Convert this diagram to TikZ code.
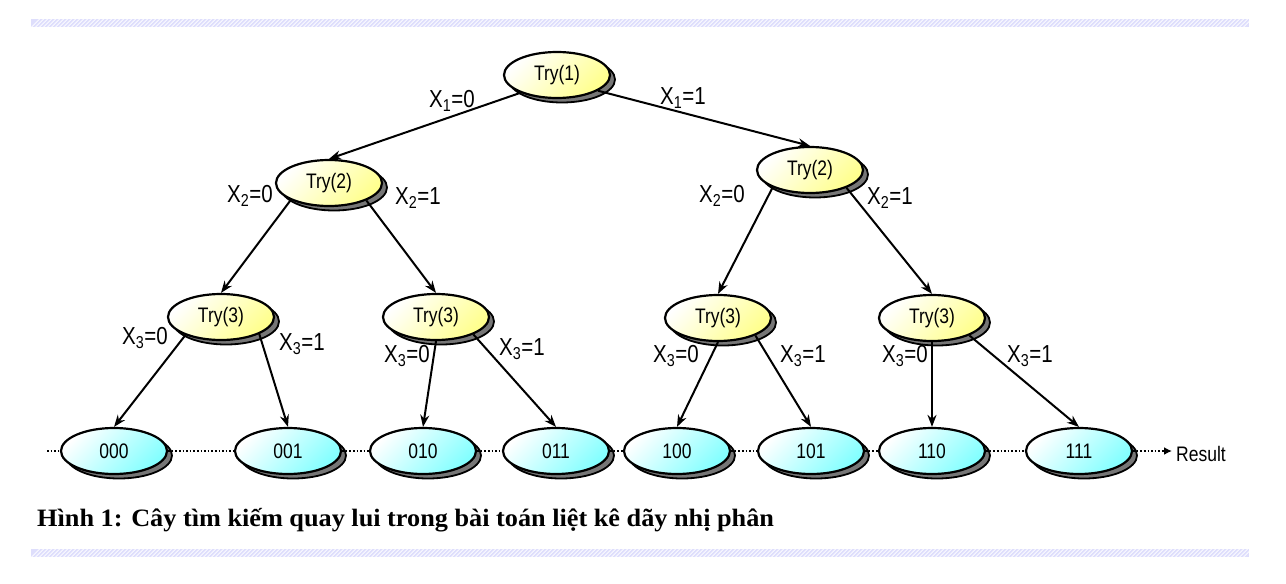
\documentclass[tikz,border=0pt]{standalone}
\usepackage{fontspec}
\setmainfont{Liberation Sans}
\newfontfamily\capfont{Liberation Serif}
\usetikzlibrary{shadows,patterns,arrows.meta,shapes.geometric}
\definecolor{stripe}{RGB}{222,222,252}
\definecolor{shadowgray}{RGB}{118,118,118}
\definecolor{tryyellow}{RGB}{255,255,140}
\definecolor{leafcyan}{RGB}{130,255,255}
\newcommand{\vs}[1]{\scalebox{1}[1.2]{#1}}
\tikzset{
  base/.style={ellipse, draw=black, line width=2.2pt, minimum width=106pt, minimum height=46pt, inner sep=0pt,
    copy shadow={shadow xshift=5pt, shadow yshift=-4.5pt, fill=shadowgray, draw=black, line width=1.8pt},
    font=\fontsize{17.5}{20}\selectfont},
  trynode/.style={base, left color=white, right color=tryyellow, shading angle=45},
  leafnode/.style={base, left color=white, right color=leafcyan, shading angle=45},
  edge/.style={line width=2pt, -{Stealth[length=12pt,width=9pt]}},
  lbl/.style={font=\fontsize{20.5}{24}\selectfont, inner sep=0pt},
  dots/.style={line width=1.6pt, dash pattern=on 1.6pt off 2pt},
}
\newcommand{\xl}[2]{\vs{X\textsubscript{#1}=#2}}
\begin{document}
\begin{tikzpicture}[x=1pt,y=-1pt]
\useasboundingbox (0,0) rectangle (1286,584);
% stripes
\fill[stripe] (31,19) rectangle (1249,27);
\fill[stripe] (31,549) rectangle (1249,557);
\foreach \i in {0,...,303}{
  \fill[white] ({31+4*\i},27) -- ({31+4*\i+1.2},27) -- ({31+4*\i+9.2},19) -- ({31+4*\i+8},19) -- cycle;
  \fill[white] ({31+4*\i},557) -- ({31+4*\i+1.2},557) -- ({31+4*\i+9.2},549) -- ({31+4*\i+8},549) -- cycle;
}
% nodes
\node[trynode] (t1) at (557,75) {\vs{Try(1)}};
\node[trynode] (t2a) at (329,183) {\vs{Try(2)}};
\node[trynode] (t2b) at (810,170) {\vs{Try(2)}};
\node[trynode] (t3a) at (221,317) {\vs{Try(3)}};
\node[trynode] (t3b) at (436,317) {\vs{Try(3)}};
\node[trynode] (t3c) at (718,318) {\vs{Try(3)}};
\node[trynode] (t3d) at (932,318) {\vs{Try(3)}};
\node[leafnode] (l0) at (114,451) {\vs{000}};
\node[leafnode] (l1) at (288,451) {\vs{001}};
\node[leafnode] (l2) at (423,451) {\vs{010}};
\node[leafnode] (l3) at (556,451) {\vs{011}};
\node[leafnode] (l4) at (677,451) {\vs{100}};
\node[leafnode] (l5) at (811,451) {\vs{101}};
\node[leafnode] (l6) at (932,451) {\vs{110}};
\node[leafnode] (l7) at (1079,451) {\vs{111}};
\coordinate (dstart) at (47,451);
\coordinate (dend) at (1172,451);
\node[anchor=west, font=\fontsize{17.5}{20}\selectfont, inner sep=0pt] (res) at (1176,454) {\vs{Result}};
% edges
\draw[edge] (t1.206) -- (t2a.north);
\draw[edge] (t1.339) -- (t2b.north);
\draw[edge] (t2a.204) -- (t3a.north);
\draw[edge] (t2a.335) -- (t3b.north);
\draw[edge] (t2b.205) -- (t3c.north);
\draw[edge] (t2b.334) -- (t3d.north);
\draw[edge] (t3a.207) -- (l0.north);
\draw[edge] (t3a.336) -- (l1.north);
\draw[edge] (t3b.south) -- (l2.north);
\draw[edge] (t3b.335) -- (l3.north);
\draw[edge] (t3c.south) -- (l4.north);
\draw[edge] (t3c.335) -- (l5.north);
\draw[edge] (t3d.south) -- (l6.north);
\draw[edge] (t3d.335) -- (l7.north);
% dotted links
\draw[dots] (dstart) -- (l0.west);
\draw[dots] (l0.east) -- (l1.west);
\draw[dots] (l1.east) -- (l2.west);
\draw[dots] (l2.east) -- (l3.west);
\draw[dots] (l3.east) -- (l4.west);
\draw[dots] (l4.east) -- (l5.west);
\draw[dots] (l5.east) -- (l6.west);
\draw[dots] (l6.east) -- (l7.west);
\draw[dots, -{Latex[length=8pt,width=8pt]}] (l7.east) -- (dend);
% labels
\node[lbl] (a1) at (452,101) {\xl{1}{0}};
\node[lbl] (a2) at (683,98) {\xl{1}{1}};
\node[lbl] (a3) at (250,196) {\xl{2}{0}};
\node[lbl] (a4) at (418,198) {\xl{2}{1}};
\node[lbl] (a5) at (722,196) {\xl{2}{0}};
\node[lbl] (a6) at (890,198) {\xl{2}{1}};
\node[lbl] (a7) at (145,338) {\xl{3}{0}};
\node[lbl] (a8) at (302,344) {\xl{3}{1}};
\node[lbl] (a9) at (407,356) {\xl{3}{0}};
\node[lbl] (a10) at (522,349) {\xl{3}{1}};
\node[lbl] (a11) at (676,356) {\xl{3}{0}};
\node[lbl] (a12) at (803,356) {\xl{3}{1}};
\node[lbl] (a13) at (905,356) {\xl{3}{0}};
\node[lbl] (a14) at (1030,356) {\xl{3}{1}};
% caption
\node[anchor=base west, inner sep=0pt, font=\capfont\bfseries\fontsize{25}{28}\selectfont] (cap) at (37,526) {\scalebox{1.05}[1]{Hình 1: Cây tìm kiếm quay lui trong bài toán liệt kê dãy nhị phân}};
\end{tikzpicture}
\end{document}
